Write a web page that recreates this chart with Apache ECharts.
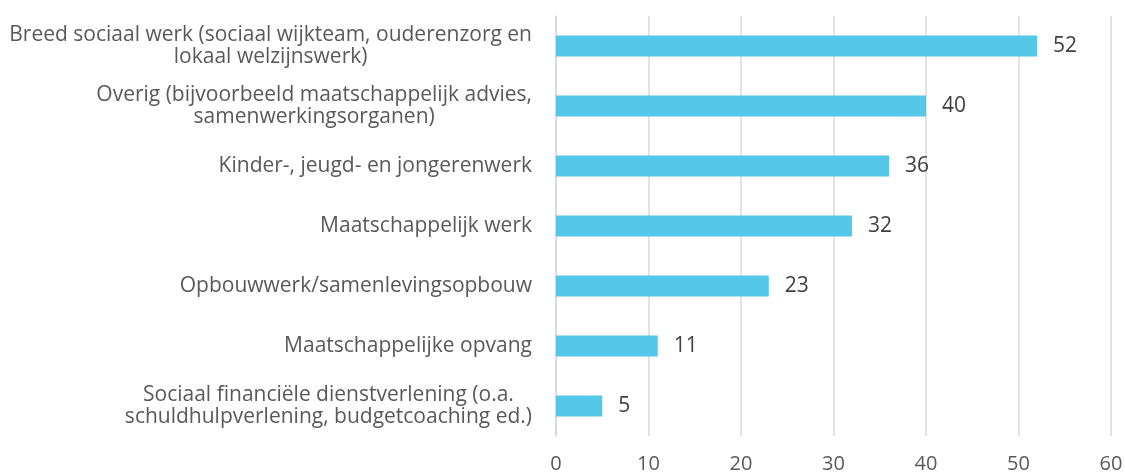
<!DOCTYPE html>
<html><head><meta charset="utf-8">
<script src="https://cdn.jsdelivr.net/npm/echarts@6/dist/echarts.min.js"></script>
<style>html,body{margin:0;padding:0;background:#fff}#c{width:1125px;height:472px}</style>
</head><body><div id="c"></div>
<script>
const categories = [
  "Breed sociaal werk (sociaal wijkteam, ouderenzorg en\nlokaal welzijnswerk)",
  "Overig (bijvoorbeeld maatschappelijk advies,\nsamenwerkingsorganen)",
  "Kinder-, jeugd- en jongerenwerk",
  "Maatschappelijk werk",
  "Opbouwwerk/samenlevingsopbouw",
  "Maatschappelijke opvang",
  "Sociaal financiële dienstverlening (o.a.\nschuldhulpverlening, budgetcoaching ed.)"
];
const values = [52, 40, 36, 32, 23, 11, 5];
const xTicks = [0, 10, 20, 30, 40, 50, 60];

const chart = echarts.init(document.getElementById('c'));
const font = "'Open Sans', sans-serif";
chart.setOption({
  animation: false,
  grid: {left: 556, right: 14, top: 16, bottom: 36, containLabel: false, outerBoundsMode: 'none'},
  xAxis: {
    type: 'value', min: xTicks[0], max: xTicks[xTicks.length-1], interval: 10,
    axisLine: {show: false}, axisTick: {show: false},
    splitLine: {lineStyle: {color: '#d9d9d9', width: 1.5}},
    axisLabel: {color: '#595959', fontSize: 20, fontFamily: font, margin: 18}
  },
  yAxis: {
    type: 'category', data: categories, inverse: true,
    axisLine: {lineStyle: {color: '#d9d9d9', width: 1.5}},
    axisTick: {show: false},
    axisLabel: {
      color: '#595959', fontSize: 21, fontFamily: font, margin: 24, align: 'right', lineHeight: 22,
      formatter: function (v) { return v.split('\n').map(function (l) { return '{c|' + l + '}'; }).join('\n'); },
      rich: {c: {align: 'center', color: '#595959', fontSize: 21, fontFamily: font, lineHeight: 22}}
    }
  },
  series: [{
    type: 'bar', data: values, barWidth: 21,
    itemStyle: {color: '#55c7e8'},
    label: {show: true, position: 'right', distance: 16, color: '#404040', fontSize: 21, fontFamily: font}
  }]
});
</script></body></html>
